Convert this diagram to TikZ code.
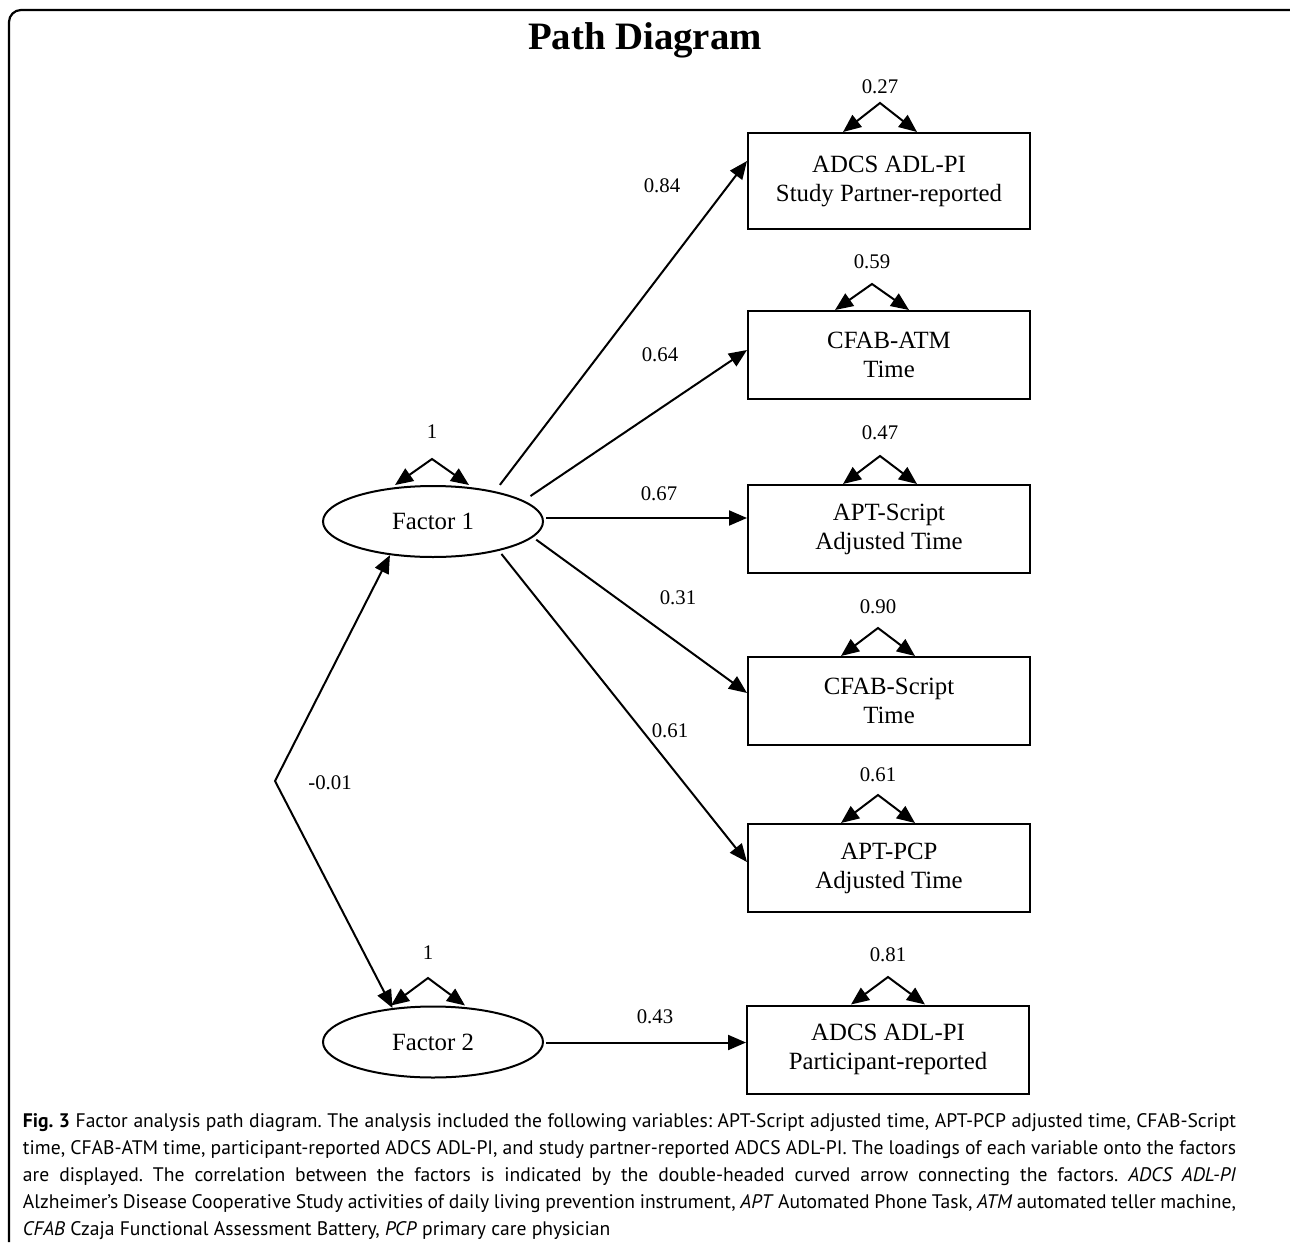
\documentclass[tikz,border=0pt]{standalone}
\usepackage{fontspec}
\setmainfont{Liberation Serif}
\newfontfamily\capfont{PT Sans}
\usetikzlibrary{arrows.meta,calc,shapes.geometric}
\newcommand\selfloop[5]{%
  \coordinate (ap#1) at (#2,#3);
  \coordinate (apl#1) at ($(ap#1)+(-37,0)$);
  \coordinate (apr#1) at ($(ap#1)+(37,0)$);
  \draw[darr] (apl#1 |- #1.north) -- (ap#1) -- (apr#1 |- #1.north);
  \node[lab] (lab#1) at (#2,#5) {#4};
}
\begin{document}
\begin{tikzpicture}[x=0.5pt,y=-0.5pt,
  line width=1pt,
  arr/.style={-{Triangle[length=9pt,width=7.5pt]}},
  darr/.style={{Triangle[length=9pt,width=7.5pt]}-{Triangle[length=9pt,width=7.5pt]}},
  box/.style={draw, minimum width=141pt, minimum height=44pt, inner sep=0pt, align=center, font=\fontsize{12.4}{14.5}\selectfont},
  fac/.style={draw, ellipse, minimum width=110pt, minimum height=35.5pt, inner sep=0pt, font=\fontsize{12.4}{14.5}\selectfont},
  lab/.style={font=\fontsize{10.4}{12}\selectfont, inner sep=0pt}]
\useasboundingbox (0,0) rectangle (1290,1242);
\draw[line width=1.1pt, rounded corners=6pt] (9,1242) -- (9,10) -- (1290,10);

\node (title) at (645,40) {\fontsize{19.4}{22}\selectfont\bfseries Path Diagram};

\node[box, minimum height=48pt] (b1) at (889,181) {ADCS ADL-PI\\Study Partner-reported};
\node[box] (b2) at (889,355) {CFAB-ATM\\Time};
\node[box] (b3) at (889,529) {APT-Script\\Adjusted Time};
\node[box] (b4) at (889,701) {CFAB-Script\\Time};
\node[box] (b5) at (889,868) {APT-PCP\\Adjusted Time};
\node[box] (b6) at (888,1049.5) {ADCS ADL-PI\\Participant-reported};

\node[fac] (f1) at (433,521.5) {Factor 1};
\node[fac] (f2) at (433,1042) {Factor 2};

\selfloop{b1}{880}{103}{0.27}{87}
\selfloop{b2}{872}{284}{0.59}{262}
\selfloop{b3}{880}{456}{0.47}{433}
\selfloop{b4}{878}{628}{0.90}{607}
\selfloop{b5}{878}{795}{0.61}{775}
\selfloop{b6}{888}{977}{0.81}{955}
\selfloop{f1}{432}{459}{1}{432}
\selfloop{f2}{428}{978}{1}{953}

\coordinate (e1) at ($(b1.west)+(0,-20)$);
\coordinate (e2) at ($(b2.west)+(0,-5)$);
\coordinate (e3) at ($(b3.west)+(0,-11)$);
\coordinate (e4) at ($(b4.west)+(0,-8)$);
\coordinate (e5) at ($(b5.west)+(0,-6)$);
\coordinate (e6) at ($(b6.west)+(0,-7)$);

\draw[arr, shorten <=4pt] (f1.26) -- (e1);
\draw[arr, shorten <=4pt] (f1.13) -- (e2);
\draw[arr, shorten <=1pt] (e3 -| f1.east) -- (e3);
\draw[arr, shorten <=2pt] (f1.-9) -- (e4);
\draw[arr, shorten <=2pt] (f1.-24) -- (e5);
\draw[arr, shorten <=1pt] (e6 -| f2.east) -- (e6);

\node[lab] (l1) at (662,186) {0.84};
\node[lab] (l2) at (660,355) {0.64};
\node[lab] (l3) at (659,494) {0.67};
\node[lab] (l4) at (678,598) {0.31};
\node[lab] (l5) at (670,731) {0.61};
\node[lab] (l6) at (655,1017) {0.43};

\coordinate (cv) at (275,781);
\draw[darr] (f2.140) -- (cv) -- (f1.218);
\node[lab] (lc) at (330,783) {-0.01};

\node[anchor=base west, inner sep=0pt] (cap) at (22,1127) {\parbox[t]{606.5pt}{\capfont\fontsize{9.8}{13.5}\selectfont\frenchspacing
\textbf{Fig.~3} Factor analysis path diagram. The analysis included the following variables: APT-Script adjusted time, APT-PCP adjusted time, CFAB-Script\linebreak
time, CFAB-ATM time, participant-reported ADCS ADL-PI, and study partner-reported ADCS ADL-PI. The loadings of each variable onto the factors\linebreak
are displayed. The correlation between the factors is indicated by the double-headed curved arrow connecting the factors. \textit{ADCS ADL-PI}\linebreak
Alzheimer’s Disease Cooperative Study activities of daily living prevention instrument, \textit{APT} Automated Phone Task, \textit{ATM} automated teller machine,\linebreak
\textit{CFAB} Czaja Functional Assessment Battery, \textit{PCP} primary care physician}};
\end{tikzpicture}
\end{document}
